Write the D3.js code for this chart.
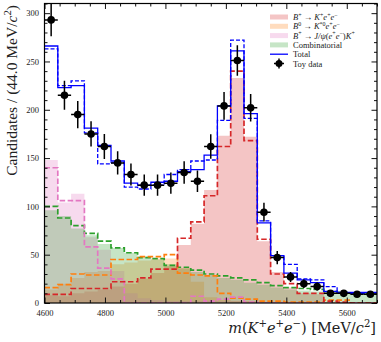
<!DOCTYPE html>
<html>
<head>
<meta charset="utf-8">
<script src="https://cdn.jsdelivr.net/npm/d3@7"></script>
<style>
  body { margin: 0; background: #fff; }
  svg text { font-family: "Liberation Serif", "DejaVu Serif", serif; fill: #222; }
</style>
</head>
<body>
<svg id="chart"></svg>
<script>
// binning: 25 bins of 44 MeV from 4600 to 5700
const massLow = 4600;
const binWidth = 44;
const nBins = 25;

// toy data points and their errors
const toyData = [293, 215, 195, 175, 162, 145, 133, 122, 122, 124, 135, 126, 162, 204, 251, 202, 94, 47, 27, 20, 17, 10, 10, 9, 9];
const toyErr = [17, 15, 14, 13, 13, 12, 11.5, 11, 11, 11, 11.6, 11.2, 12.7, 14.3, 15.8, 14.2, 9.7, 6.9, 5.2, 4.5, 4.1, 3.2, 3.2, 3, 3];

// fitted components (filled)
const fitSignal = [8, 7, 10, 12, 14, 17, 20, 25, 31, 38, 60, 82, 117, 173, 233, 172, 64, 32, 16, 10, 9, 1, 1, 1, 1];
const fitKstar = [14, 20, 26, 32, 33, 40, 42, 44, 46, 46, 36, 22, 6, 3, 2, 2, 1, 1, 1, 1, 1, 1, 0, 0, 0];
const fitJpsi = [148, 104, 113, 68, 55, 33, 10, 5, 3, 2, 2, 2, 2, 2, 2, 1, 1, 0, 0, 0, 0, 0, 0, 0, 0];
const fitComb = [96, 90, 77, 70, 61, 57, 52, 48, 45, 40, 36, 32, 29, 26, 24, 21, 19, 16, 14, 13, 12, 11, 10, 10, 10];
const fitTotal = [266, 223, 225, 181, 163, 147, 124, 122, 125, 126, 136, 138, 153, 204, 261, 196, 83, 49, 31, 24, 21, 12, 11, 11, 11];

// alternative model components (dashed)
const altSignal = [9, 9, 15, 15, 15, 22, 22, 26, 35, 35, 67, 84, 111, 162, 240, 168, 66, 30, 20, 10, 10, 2, 1, 0, 0];
const altKstar = [16, 19, 30, 29, 29, 45, 45, 48, 48, 50, 31, 29, 28, 10, 5, 4, 2, 2, 1, 1, 1, 3, 3, 0, 0];
const altJpsi = [140, 106, 106, 58, 36, 25, 0, 0, 0, 0, 0, 7, 2, 4, 6, 1, 0, 0, 0, 0, 0, 0, 0, 0, 0];
const altComb = [100, 88, 80, 72, 64, 57, 52, 47, 46, 39, 37, 34, 30, 28, 26, 24, 21, 18, 16, 15, 14, 12, 11, 10, 10];
const altTotal = [263, 225, 230, 176, 144, 145, 120, 118, 122, 133, 138, 147, 148, 189, 272, 191, 85, 49, 40, 25, 24, 17, 10, 10, 10];

const yTicks = [0, 50, 100, 150, 200, 250, 300];
const xTicks = [4600, 4800, 5000, 5200, 5400, 5600];

const width = 381, height = 342;
const plot = { left: 44.5, right: 377, top: 3.5, bottom: 303 };

const colors = { signal: "#d62728", kstar: "#ff7f0e", jpsi: "#e377c2", comb: "#2ca02c", total: "#0000ff" };

const svg = d3.select("#chart").attr("width", width).attr("height", height);

const x = d3.scaleLinear().domain([massLow, massLow + nBins * binWidth]).range([plot.left, plot.right]);
const y = d3.scaleLinear().domain([0, 310]).range([plot.bottom, plot.top]);

svg.append("clipPath").attr("id", "clip")
  .append("rect")
  .attr("x", plot.left).attr("y", plot.top)
  .attr("width", plot.right - plot.left).attr("height", plot.bottom - plot.top);

const g = svg.append("g").attr("clip-path", "url(#clip)");

function steps(vals) {
  const pts = vals.map((v, i) => ({ m: massLow + i * binWidth, v: v }));
  pts.push({ m: massLow + vals.length * binWidth, v: vals[vals.length - 1] });
  return pts;
}

const area = d3.area().curve(d3.curveStepAfter)
  .x(d => x(d.m)).y0(y(0)).y1(d => y(d.v));
const line = d3.line().curve(d3.curveStepAfter)
  .x(d => x(d.m)).y(d => y(d.v));

// filled fit components, overlapping with transparency
[[fitSignal, colors.signal], [fitKstar, colors.kstar], [fitJpsi, colors.jpsi], [fitComb, colors.comb]]
  .forEach(([vals, c]) => {
    g.append("path").attr("d", area(steps(vals)))
      .attr("fill", c).attr("fill-opacity", 0.27);
  });

// dashed alternative components
[[altComb, colors.comb], [altKstar, colors.kstar], [altJpsi, colors.jpsi], [altSignal, colors.signal]]
  .forEach(([vals, c]) => {
    g.append("path").attr("d", line(steps(vals)))
      .attr("fill", "none").attr("stroke", c)
      .attr("stroke-width", 1.7).attr("stroke-dasharray", "5.5,2.5");
  });

g.append("path").attr("d", line(steps(altTotal)))
  .attr("fill", "none").attr("stroke", colors.total)
  .attr("stroke-width", 1.3).attr("stroke-dasharray", "4,2");
g.append("path").attr("d", line(steps(fitTotal)))
  .attr("fill", "none").attr("stroke", colors.total)
  .attr("stroke-width", 1.3);

// toy data with error bars
const pts = g.append("g");
toyData.forEach((v, i) => {
  const lo = massLow + i * binWidth, mid = lo + binWidth / 2;
  pts.append("line")
    .attr("x1", x(lo)).attr("x2", x(lo + binWidth))
    .attr("y1", y(v)).attr("y2", y(v))
    .attr("stroke", "black").attr("stroke-width", 1.5);
  pts.append("line")
    .attr("x1", x(mid)).attr("x2", x(mid))
    .attr("y1", y(v - toyErr[i])).attr("y2", y(v + toyErr[i]))
    .attr("stroke", "black").attr("stroke-width", 1.5);
  pts.append("circle")
    .attr("cx", x(mid)).attr("cy", y(v)).attr("r", 3.8)
    .attr("fill", "black");
});

// axes with inward ticks on all sides
const yMinor = d3.range(0, 311, 10).filter(v => v % 50 !== 0);
const xMinor = d3.range(4600, 5701, 50).filter(v => v % 200 !== 0);

function ticks(axisFn, pos, major, minor, withLabels, pad) {
  const ga = svg.append("g").attr("transform", pos);
  ga.call(axisFn(major === "x" ? x : y)
    .tickValues(major === "x" ? xTicks : yTicks)
    .tickSize(-5.5).tickPadding(withLabels ? pad : 0)
    .tickFormat(withLabels ? d3.format("d") : ""));
  ga.call(g2 => g2.select(".domain").remove());
  const gm = svg.append("g").attr("transform", pos);
  gm.call(axisFn(major === "x" ? x : y).tickValues(minor).tickSize(-3).tickFormat(""));
  gm.call(g2 => g2.select(".domain").remove());
  svg.selectAll(".tick line").attr("stroke", "#111").attr("stroke-width", 1);
  ga.selectAll("text").style("font-size", "8.5px").attr("fill", "#222")
    .style("font-family", '"Liberation Serif", serif');
}

ticks(d3.axisBottom, `translate(0,${plot.bottom})`, "x", xMinor, true, 6.5);
ticks(d3.axisTop, `translate(0,${plot.top})`, "x", xMinor, false, 0);
ticks(d3.axisLeft, `translate(${plot.left},0)`, "y", yMinor, true, 5.5);
ticks(d3.axisRight, `translate(${plot.right},0)`, "y", yMinor, false, 0);

svg.append("rect")
  .attr("x", plot.left).attr("y", plot.top)
  .attr("width", plot.right - plot.left).attr("height", plot.bottom - plot.top)
  .attr("fill", "none").attr("stroke", "black").attr("stroke-width", 1.2);

// text with italic letters and superscripts
function rich(sel, parts, size) {
  let raised = false;
  parts.forEach(([t, s]) => {
    const ts = sel.append("tspan").text(t);
    if (s.includes("i")) ts.style("font-style", "italic");
    const sup = s.includes("^");
    if (sup && !raised) { ts.attr("dy", -size * 0.4); raised = true; }
    else if (!sup && raised) { ts.attr("dy", size * 0.4); raised = false; }
    if (sup) ts.style("font-size", (size * 0.7) + "px");
  });
}

const ylab = svg.append("text")
  .attr("transform", "translate(17,5) rotate(-90)")
  .attr("text-anchor", "end")
  .style("font-size", "15.5px");
rich(ylab, [["Candidates / (44.0 MeV/", ""], ["c", "i"], ["2", "^"], [")", ""]], 15.5);

const xlab = svg.append("text")
  .attr("x", 376).attr("y", 333)
  .attr("text-anchor", "end")
  .style("font-size", "14.5px")
  .style("font-family", '"DejaVu Serif", serif');
rich(xlab, [["m", "i"], ["(", ""], ["K", "i"], ["+", "^"], ["e", "i"], ["+", "^"], ["e", "i"], ["\u2212", "^"],
  [") [MeV/", ""], ["c", "i"], ["2", "^"], ["]", ""]], 14.5);

// legend
const legendItems = [
  { type: "fill", color: colors.signal, label: [["B", "i"], ["+", "^"], [" \u2192 ", ""], ["K", "i"], ["+", "^"], ["e", "i"], ["+", "^"], ["e", "i"], ["\u2212", "^"]] },
  { type: "fill", color: colors.kstar, label: [["B", "i"], ["0", "^"], [" \u2192 ", ""], ["K", "i"], ["*0", "^"], ["e", "i"], ["+", "^"], ["e", "i"], ["\u2212", "^"]] },
  { type: "fill", color: colors.jpsi, label: [["B", "i"], ["+", "^"], [" \u2192 ", ""], ["J/\u03c8", "i"], ["(", ""], ["e", "i"], ["+", "^"], ["e", "i"], ["\u2212", "^"], [")", ""], ["K", "i"], ["+", "^"]] },
  { type: "fill", color: colors.comb, label: [["Combinatorial", ""]] },
  { type: "line", color: colors.total, label: [["Total", ""]] },
  { type: "data", color: "black", label: [["Toy data", ""]] }
];

const legend = svg.append("g").attr("transform", "translate(270, 17)");
legendItems.forEach((item, i) => {
  const row = legend.append("g").attr("transform", `translate(0, ${i * 9.3})`);
  if (item.type === "fill") {
    row.append("rect").attr("x", 0).attr("y", -2.5).attr("width", 18).attr("height", 5)
      .attr("fill", item.color).attr("fill-opacity", 0.27);
  } else if (item.type === "line") {
    row.append("line").attr("x1", 0).attr("x2", 18).attr("y1", 0).attr("y2", 0)
      .attr("stroke", item.color).attr("stroke-width", 1.3);
  } else {
    row.append("line").attr("x1", 4).attr("x2", 14).attr("y1", 0).attr("y2", 0)
      .attr("stroke", "black").attr("stroke-width", 1.5);
    row.append("line").attr("x1", 9).attr("x2", 9).attr("y1", -5).attr("y2", 5)
      .attr("stroke", "black").attr("stroke-width", 1.5);
    row.append("circle").attr("cx", 9).attr("cy", 0).attr("r", 3.5).attr("fill", "black");
  }
  const t = row.append("text").attr("x", 23).attr("y", 3).style("font-size", "8.5px").attr("fill", "#333");
  rich(t, item.label, 8.5);
});
</script>
</body>
</html>
